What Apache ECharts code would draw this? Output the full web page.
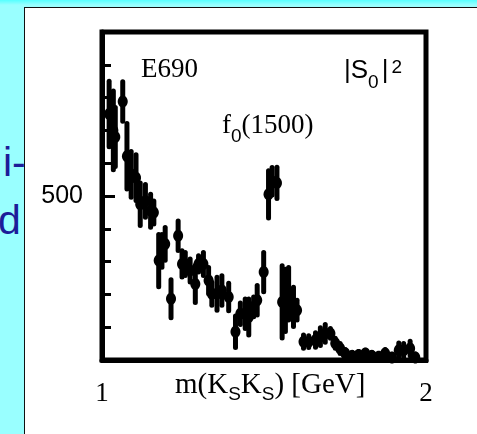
<!DOCTYPE html>
<html><head><meta charset="utf-8">
<script src="https://cdn.jsdelivr.net/npm/echarts@6/dist/echarts.min.js"></script>
<style>
html,body{margin:0;padding:0;width:477px;height:434px;overflow:hidden;background:#99ffff;}
#strip{position:absolute;left:0;top:0;width:477px;height:5px;background:linear-gradient(#55ffff,#99ffff);}
.bl{position:absolute;font-family:'Liberation Sans',Arial,sans-serif;font-size:41px;color:#1c1c99;line-height:40px;}
#panel{position:absolute;left:24px;top:7px;width:460px;height:440px;background:#fff;border-left:1px solid #111;border-top:1px solid #111;}
#chart{position:absolute;left:0;top:0;width:477px;height:434px;}
</style></head>
<body>
<div id="strip"></div>
<div class="bl" style="left:3px;top:142px;">i-</div>
<div class="bl" style="left:-2px;top:200px;">d</div>
<div id="panel"></div>
<div id="chart"></div>
<script>
// mass (GeV)
const massGeV = [1.022,1.035,1.041,1.064,1.077,1.090,1.105,1.118,1.134,1.150,1.160,1.175,1.185,1.195,1.213,1.235,1.247,1.257,1.272,1.288,1.298,1.313,1.329,1.339,1.355,1.370,1.391,1.412,1.427,1.442,1.453,1.468,1.479,1.499,1.514,1.525,1.540,1.556,1.566,1.576,1.591,1.602,1.622,1.638,1.659,1.674,1.689,1.705,1.720,1.735,1.751,1.772,1.792,1.813,1.833,1.854,1.874,1.895,1.916,1.931,1.951,1.967];
// |S0|^2 events
const events = [750,700,680,788,621,566,556,475,485,455,450,303,333,354,187,379,293,293,273,232,293,293,242,202,202,212,192,86,141,141,131,162,182,268,505,545,540,177,182,202,162,152,56,56,61,71,81,81,51,35,20,12,15,20,12,10,20,8,30,30,35,8];
// statistical errors
const errors = [100,120,90,60,100,70,70,65,50,50,35,80,50,50,58,45,40,35,35,57,25,35,40,35,50,45,42,48,33,45,55,30,45,60,72,42,48,110,95,80,60,30,20,18,22,27,27,15,15,15,12,12,10,10,12,10,12,8,22,20,22,10];
const xTicks = ['1','2'];
const yTickLabels = ['500'];

const data = massGeV.map((m,i)=>[m, events[i], errors[i]]);
const serif = "'Liberation Serif','Times New Roman',serif";
const sans = "'Liberation Sans',Arial,sans-serif";

const chart = echarts.init(document.getElementById('chart'), null, {renderer:'canvas'});
chart.setOption({
  animation:false,
  backgroundColor:'transparent',
  grid:{left:102,right:51,top:32,bottom:74,show:true,borderColor:'#000',borderWidth:5,backgroundColor:'transparent'},
  xAxis:{type:'value',min:1,max:2,interval:0.1,
    axisLine:{show:true,lineStyle:{color:'#000',width:5}},
    axisTick:{show:true,inside:false,length:3,lineStyle:{color:'#000',width:3}},
    splitLine:{show:false},
    axisLabel:{margin:20,color:'#000',fontFamily:serif,fontSize:27,
      formatter:v=>Math.abs(v-1)<1e-6?xTicks[0]:(Math.abs(v-2)<1e-6?xTicks[1]:'')}},
  yAxis:[
    {type:'value',min:0,max:1000,interval:100,
     axisLine:{show:true,lineStyle:{color:'#000',width:5}},
     axisTick:{show:true,inside:true,length:9,lineStyle:{color:'#000',width:3}},
     splitLine:{show:false},axisLabel:{show:false}},
    {type:'value',min:0,max:1000,interval:500,position:'left',
     axisLine:{show:false},
     axisTick:{show:true,inside:true,length:13,lineStyle:{color:'#000',width:3}},
     splitLine:{show:false},
     axisLabel:{margin:19,color:'#000',fontFamily:sans,fontSize:25,
       formatter:v=>v===500?yTickLabels[0]:''}}
  ],
  series:[{
    type:'custom',
    data:data,
    renderItem:function(params,api){
      const x=api.value(0), y=api.value(1), e=api.value(2);
      const p=api.coord([x,y]);
      const hi=api.coord([x,y+e]);
      const lo=api.coord([x,Math.max(0,y-e)]);
      const l=api.coord([x-0.009,y]);
      const r=api.coord([x+0.009,y]);
      return {type:'group',children:[
        {type:'line',shape:{x1:p[0],y1:hi[1],x2:p[0],y2:lo[1]},style:{stroke:'#000',lineWidth:5,lineCap:'round'}},
        {type:'line',shape:{x1:l[0],y1:p[1],x2:r[0],y2:p[1]},style:{stroke:'#000',lineWidth:4}},
        {type:'ellipse',shape:{cx:p[0],cy:p[1],rx:5,ry:6},style:{fill:'#000'}}
      ]};
    }
  }],
  graphic:[
    {type:'text',left:141,top:56,style:{text:'E690',font:"27px "+serif,fill:'#000'}},
    {type:'text',left:222,top:112,style:{
      text:'{n|f}{s|0}{n|(1500)}',
      rich:{n:{fontFamily:serif,fontSize:27,lineHeight:34,verticalAlign:'top'},
            s:{fontFamily:sans,fontSize:19,lineHeight:19,verticalAlign:'bottom'}},
      fill:'#000'}},
    {type:'text',left:344,top:58,style:{
      text:'{n||S}{s|0}{n||}{p|2}',
      rich:{n:{fontFamily:sans,fontSize:26,lineHeight:34,verticalAlign:'top'},
            s:{fontFamily:sans,fontSize:19,lineHeight:19,verticalAlign:'bottom',padding:[0,3,0,0]},
            p:{fontFamily:sans,fontSize:19,lineHeight:19,verticalAlign:'top',padding:[0,0,0,3]}},
      fill:'#000'}},
    {type:'text',left:175,top:371,style:{
      text:'{n|m(K}{s|S}{n|K}{s|S}{n|) [GeV]}',
      rich:{n:{fontFamily:serif,fontSize:29,lineHeight:33,verticalAlign:'top'},
            s:{fontFamily:sans,fontSize:19,lineHeight:19,verticalAlign:'bottom'}},
      fill:'#000'}}
  ]
});
</script>
</body></html>
